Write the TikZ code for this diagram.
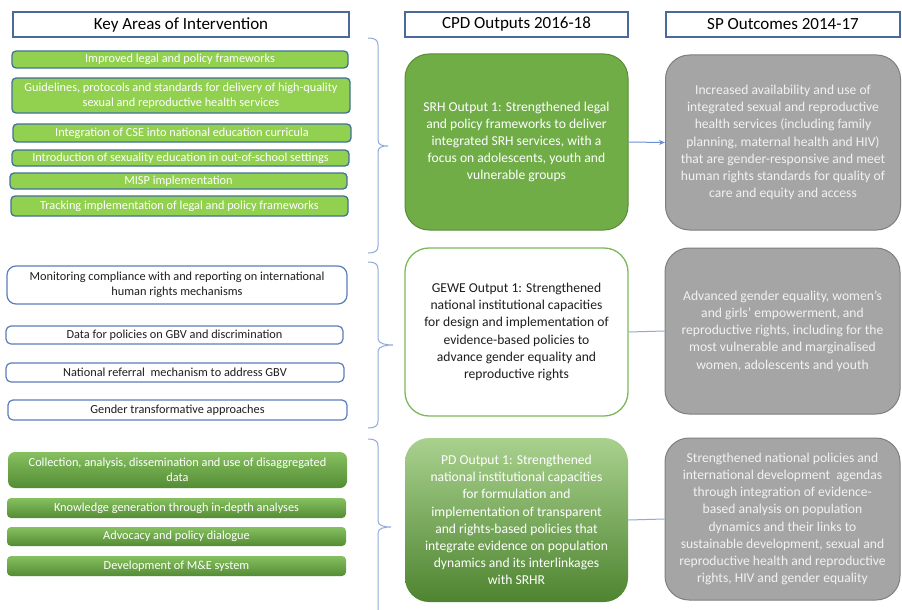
\documentclass[tikz,border=0pt]{standalone}
\usepackage{fontspec}
\setmainfont{Carlito}
\usetikzlibrary{arrows.meta}

\definecolor{hdrblue}{HTML}{4A6A9C}
\definecolor{barfill}{HTML}{92D050}
\definecolor{barline}{HTML}{41719C}
\definecolor{boxblue}{HTML}{5B7DBA}
\definecolor{srhfill}{HTML}{70AD47}
\definecolor{srhline}{HTML}{5A8C3A}
\definecolor{gewe}{HTML}{7DB85A}
\definecolor{gradtop}{HTML}{A9D18E}
\definecolor{gradbot}{HTML}{4E8430}
\definecolor{bartop}{HTML}{86C060}
\definecolor{barbot}{HTML}{548C34}
\definecolor{greyfill}{HTML}{A5A5A5}
\definecolor{greyline}{HTML}{7F7F7F}
\definecolor{bracecol}{HTML}{8FAADC}
\definecolor{arrowcol}{HTML}{5B85D0}
\definecolor{ink}{HTML}{1E1E1E}

% curly bracket grouping a column of areas: top y, tip y, bottom y, tip x
\newcommand{\groupbrace}[4]{%
  \draw[bracket] (368,#1) .. controls (375,#1) and (378,#1+2) .. (378,#1+7)
    -- (378,#2-6) .. controls (378,#2-1) and (#4-6,#2) .. (#4,#2)
    .. controls (#4-6,#2) and (378,#2+1) .. (378,#2+6)
    -- (378,#3-7) .. controls (378,#3-2) and (375,#3) .. (368,#3);}

\begin{document}
\begin{tikzpicture}[x=1pt,y=-1pt,
  hdr/.style={draw=hdrblue, line width=1.1pt, fill=white, inner sep=0,
    text=black, font=\fontsize{17}{20}\selectfont, minimum height=25pt},
  smalltext/.style={align=center, inner sep=0, font=\fontsize{12.3}{14.8}\selectfont},
  greenbar/.style={smalltext, draw=barline, line width=1.3pt, fill=barfill,
    text=white, rounded corners=4pt},
  whitebar/.style={smalltext, draw=boxblue, line width=1.2pt, fill=white,
    text=ink, rounded corners=5pt},
  gradbar/.style={smalltext, top color=bartop, bottom color=barbot,
    text=white, rounded corners=4pt},
  bigtext/.style={align=center, inner sep=0, font=\fontsize{13.6}{17.2}\selectfont,
    minimum width=223pt, rounded corners=24pt},
  srhbox/.style={bigtext, draw=srhline, line width=1pt, fill=srhfill, text=white},
  gewebox/.style={bigtext, draw=gewe, line width=1.3pt, fill=white, text=ink},
  pdbox/.style={bigtext, top color=gradtop, bottom color=gradbot, text=white},
  outbox/.style={bigtext, minimum width=235pt, draw=greyline, line width=1pt,
    fill=greyfill, text=white!95!black},
  bracket/.style={draw=bracecol, line width=1pt},
  link/.style={draw=bracecol, line width=1pt},
]
\useasboundingbox (0,0) rectangle (902,610);
\fill[white] (0,0) rectangle (902,610);

% column headers
\node[hdr, minimum width=336pt] (hkey) at (181,24.5) {Key Areas of Intervention};
\node[hdr, minimum width=223pt] (hcpd) at (516.5,24.5) {CPD Outputs 2016-18};
\node[hdr, minimum width=234pt] (hsp) at (783,24.5) {SP Outcomes 2014-17};

% SRH key areas
\node[greenbar, minimum width=336pt, minimum height=17pt] (k1) at (180,59.5) {Improved legal and policy frameworks};
\node[greenbar, minimum width=338pt, minimum height=35pt] (k2) at (181,95.5) {Guidelines, protocols and standards for delivery of high-quality\\sexual and reproductive health services};
\node[greenbar, minimum width=338pt, minimum height=18pt] (k3) at (182,133) {Integration of CSE into national education curricula};
\node[greenbar, minimum width=337pt, minimum height=16pt] (k4) at (180.5,158) {Introduction of sexuality education in out-of-school settings};
\node[greenbar, minimum width=337pt, minimum height=16pt] (k5) at (178.5,181) {MISP implementation};
\node[greenbar, minimum width=337pt, minimum height=20pt] (k6) at (179.5,206) {Tracking implementation of legal and policy frameworks};

% GEWE key areas
\node[whitebar, rounded corners=9pt, minimum width=340pt, minimum height=38pt] (w1) at (177,285) {Monitoring compliance with and reporting on international\\human rights mechanisms};
\node[whitebar, minimum width=337pt, minimum height=18pt] (w2) at (174.5,335) {Data for policies on GBV and discrimination};
\node[whitebar, minimum width=338pt, minimum height=19pt] (w3) at (175,372.5) {National referral\ \ mechanism to address GBV};
\node[whitebar, minimum width=339pt, minimum height=20pt] (w4) at (177.5,410) {Gender transformative approaches};

% PD key areas
\node[gradbar, rounded corners=7pt, minimum width=339pt, minimum height=36pt] (p1) at (177.5,470) {Collection, analysis, dissemination and use of disaggregated\\data};
\node[gradbar, minimum width=339pt, minimum height=20pt] (p2) at (176.5,508) {Knowledge generation through in-depth analyses};
\node[gradbar, minimum width=339pt, minimum height=19pt] (p3) at (176.5,536.5) {Advocacy and policy dialogue};
\node[gradbar, minimum width=339pt, minimum height=20pt] (p4) at (176.5,566) {Development of M\&E system};

% grouping brackets
\groupbrace{38}{146}{253}{388}
\groupbrace{262}{345}{428}{393}
\groupbrace{439}{527}{625}{391}

% CPD outputs
\node[srhbox, minimum height=176pt] (srh) at (516.5,142) {SRH Output 1: Strengthened legal\\and policy frameworks to deliver\\integrated SRH services, with a\\focus on adolescents, youth and\\vulnerable groups};
\node[gewebox, minimum height=168pt] (gew) at (516.5,332) {GEWE Output 1: Strengthened\\national institutional capacities\\for design and implementation of\\evidence-based policies to\\advance gender equality and\\reproductive rights};
\node[pdbox, minimum height=164pt] (pdo) at (516.5,520) {PD Output 1: Strengthened\\national institutional capacities\\for formulation and\\implementation of transparent\\and rights-based policies that\\integrate evidence on population\\dynamics and its interlinkages\\with SRHR};

% SP outcomes
\node[outbox, minimum height=175pt] (sp1) at (783,142.5) {Increased availability and use of\\integrated sexual and reproductive\\health services (including family\\planning, maternal health and HIV)\\that are gender-responsive and meet\\human rights standards for quality of\\care and equity and access};
\node[outbox, minimum height=166pt] (sp2) at (782.5,331) {Advanced gender equality, women’s\\and girls’ empowerment, and\\reproductive rights, including for the\\most vulnerable and marginalised\\women, adolescents and youth};
\node[outbox, minimum height=162pt] (sp3) at (782.5,519) {Strengthened national policies and\\international development\ \ agendas\\through integration of evidence-\\based analysis on population\\dynamics and their links to\\sustainable development, sexual and\\reproductive health and reproductive\\rights, HIV and gender equality};

% links from outputs to outcomes
\draw[link, draw=arrowcol!70!bracecol, -{Stealth[length=6pt,width=5pt,fill=arrowcol]}] (srh.east) -- (sp1.west);
\draw[link] (gew.east) -- (sp2.west);
\draw[link] (pdo.east) -- (sp3.west);
\end{tikzpicture}
\end{document}
